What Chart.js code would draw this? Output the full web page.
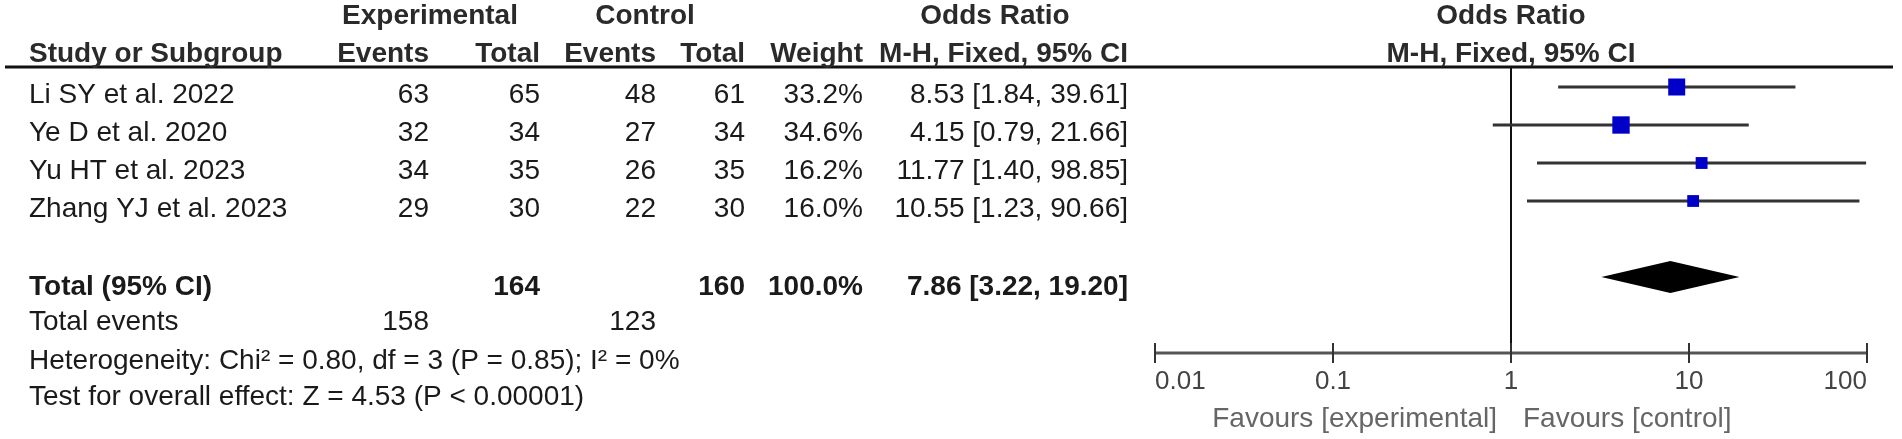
<!DOCTYPE html>
<html>
<head>
<meta charset="utf-8">
<script src="https://cdn.jsdelivr.net/npm/chart.js@4.4.1/dist/chart.umd.min.js"></script>
<style>
  body { margin: 0; background: #fff; }
  #myChart { display: block; }
</style>
</head>
<body>
<canvas id="myChart" width="1902" height="439"></canvas>
<script>
const studies = ['Li SY et al. 2022', 'Ye D et al. 2020', 'Yu HT et al. 2023', 'Zhang YJ et al. 2023'];
const expEvents = [63, 32, 34, 29];
const expTotal = [65, 34, 35, 30];
const ctrlEvents = [48, 27, 26, 22];
const ctrlTotal = [61, 34, 35, 30];
const weights = [33.2, 34.6, 16.2, 16.0];
const orValues = [8.53, 4.15, 11.77, 10.55];
const ciLow = [1.84, 0.79, 1.40, 1.23];
const ciHigh = [39.61, 21.66, 98.85, 90.66];

const totalRow = { label: 'Total (95% CI)', expTotal: 164, ctrlTotal: 160, weight: '100.0%', or: 7.86, low: 3.22, high: 19.20 };
const totalEvents = [158, 123];
const heterogeneity = 'Heterogeneity: Chi² = 0.80, df = 3 (P = 0.85); I² = 0%';
const overallEffect = 'Test for overall effect: Z = 4.53 (P < 0.00001)';

const tickValues = [0.01, 0.1, 1, 10, 100];
const tickLabels = ['0.01', '0.1', '1', '10', '100'];
const favours = ['Favours [experimental]', 'Favours [control]'];

// rows in y scale units
const TOTAL_ROW = 5;
const EVENTS_ROW = 6.2;
const HET_ROW = 7.22;
const TEST_ROW = 8.17;
const TEXT_DY = 8; // table text sits a little below the marks

function fmt(v) {
  return v.toFixed(2);
}

function txt(c, s, x, y, align, bold, color, size) {
  c.font = (bold ? 'bold ' : '') + (size || 28) + 'px "Liberation Sans", Arial, sans-serif';
  c.fillStyle = color || '#1a1a1a';
  c.textAlign = align || 'left';
  c.textBaseline = 'middle';
  c.fillText(s, x, y);
}

const forestPlugin = {
  id: 'forest',
  beforeDatasetsDraw(chart) {
    const c = chart.ctx;
    const xs = chart.scales.x;
    const area = chart.chartArea;
    c.save();
    // header rule
    c.strokeStyle = '#111';
    c.lineWidth = 3;
    c.beginPath();
    c.moveTo(5, area.top - 1);
    c.lineTo(1893, area.top - 1);
    c.stroke();
    // line of no effect
    const x1 = Math.round(xs.getPixelForValue(1));
    c.lineWidth = 2;
    c.beginPath();
    c.moveTo(x1, area.top);
    c.lineTo(x1, area.bottom);
    c.stroke();
    c.restore();
  },
  afterDatasetsDraw(chart) {
    const c = chart.ctx;
    const xs = chart.scales.x;
    const ys = chart.scales.y;
    const area = chart.chartArea;
    c.save();

    // diamond for pooled estimate
    const yT = ys.getPixelForValue(TOTAL_ROW);
    c.fillStyle = '#000';
    c.beginPath();
    c.moveTo(xs.getPixelForValue(totalRow.low), yT);
    c.lineTo(xs.getPixelForValue(totalRow.or), yT - 16);
    c.lineTo(xs.getPixelForValue(totalRow.high), yT);
    c.lineTo(xs.getPixelForValue(totalRow.or), yT + 16);
    c.closePath();
    c.fill();

    // x axis
    const yA = area.bottom;
    c.strokeStyle = '#555';
    c.lineWidth = 3;
    c.beginPath();
    c.moveTo(xs.getPixelForValue(tickValues[0]), yA);
    c.lineTo(xs.getPixelForValue(tickValues[tickValues.length - 1]), yA);
    c.stroke();
    c.lineWidth = 2;
    c.strokeStyle = '#333';
    for (let i = 0; i < tickValues.length; i++) {
      const px = Math.round(xs.getPixelForValue(tickValues[i]));
      c.beginPath();
      c.moveTo(px, yA - 10);
      c.lineTo(px, yA + 10);
      c.stroke();
      let al = 'center';
      if (i == 0) al = 'left';
      if (i == tickValues.length - 1) al = 'right';
      txt(c, tickLabels[i], px, yA + 29, al, false, '#444', 26);
    }
    const xc = xs.getPixelForValue(1);
    txt(c, favours[0], xc - 14, yA + 66, 'right', false, '#666', 28);
    txt(c, favours[1], xc + 12, yA + 66, 'left', false, '#666', 28);

    // table headers
    const hc = '#2a2a2a';
    txt(c, 'Experimental', 430, 16, 'center', true, hc);
    txt(c, 'Control', 645, 16, 'center', true, hc);
    txt(c, 'Odds Ratio', 995, 16, 'center', true, hc);
    txt(c, 'Odds Ratio', xc, 16, 'center', true, hc);
    txt(c, 'Study or Subgroup', 29, 54, 'left', true, hc);
    txt(c, 'Events', 429, 54, 'right', true, hc);
    txt(c, 'Total', 540, 54, 'right', true, hc);
    txt(c, 'Events', 656, 54, 'right', true, hc);
    txt(c, 'Total', 745, 54, 'right', true, hc);
    txt(c, 'Weight', 863, 54, 'right', true, hc);
    txt(c, 'M-H, Fixed, 95% CI', 1128, 54, 'right', true, hc);
    txt(c, 'M-H, Fixed, 95% CI', xc, 54, 'center', true, hc);

    // study rows
    for (let i = 0; i < studies.length; i++) {
      const y = ys.getPixelForValue(i) + TEXT_DY;
      txt(c, studies[i], 29, y);
      txt(c, String(expEvents[i]), 429, y, 'right');
      txt(c, String(expTotal[i]), 540, y, 'right');
      txt(c, String(ctrlEvents[i]), 656, y, 'right');
      txt(c, String(ctrlTotal[i]), 745, y, 'right');
      txt(c, weights[i].toFixed(1) + '%', 863, y, 'right');
      txt(c, fmt(orValues[i]) + ' [' + fmt(ciLow[i]) + ', ' + fmt(ciHigh[i]) + ']', 1128, y, 'right');
    }

    // total rows
    const yTt = yT + TEXT_DY + 2;
    txt(c, totalRow.label, 29, yTt, 'left', true);
    txt(c, String(totalRow.expTotal), 540, yTt, 'right', true);
    txt(c, String(totalRow.ctrlTotal), 745, yTt, 'right', true);
    txt(c, totalRow.weight, 863, yTt, 'right', true);
    txt(c, fmt(totalRow.or) + ' [' + fmt(totalRow.low) + ', ' + fmt(totalRow.high) + ']', 1128, yTt, 'right', true);

    const yE = ys.getPixelForValue(EVENTS_ROW);
    txt(c, 'Total events', 29, yE);
    txt(c, String(totalEvents[0]), 429, yE, 'right');
    txt(c, String(totalEvents[1]), 656, yE, 'right');
    txt(c, heterogeneity, 29, ys.getPixelForValue(HET_ROW));
    txt(c, overallEffect, 29, ys.getPixelForValue(TEST_ROW));

    c.restore();
  }
};

const datasets = [{
  type: 'scatter',
  label: 'OR',
  data: orValues.map((v, i) => ({ x: v, y: i })),
  pointStyle: 'rect',
  pointRadius: weights.map(w => 2.95 * Math.sqrt(w) / Math.SQRT2),
  pointHoverRadius: weights.map(w => 2.95 * Math.sqrt(w) / Math.SQRT2),
  backgroundColor: '#0000c8',
  borderWidth: 0,
  order: 0
}];
for (let i = 0; i < studies.length; i++) {
  datasets.push({
    type: 'line',
    label: studies[i],
    data: [{ x: ciLow[i], y: i }, { x: ciHigh[i], y: i }],
    borderColor: '#333',
    borderWidth: 3,
    pointRadius: 0,
    fill: false,
    order: 1
  });
}

const ctx = document.getElementById('myChart');
new Chart(ctx, {
  data: { datasets: datasets },
  options: {
    responsive: false,
    animation: false,
    devicePixelRatio: 1,
    layout: { padding: { left: 1155, right: 35, top: 68, bottom: 86 } },
    plugins: { legend: { display: false }, tooltip: { enabled: false } },
    scales: {
      x: { type: 'logarithmic', min: 0.01, max: 100, display: false },
      y: { type: 'linear', min: -0.5, max: 7, reverse: true, display: false }
    }
  },
  plugins: [forestPlugin]
});
</script>
</body>
</html>
